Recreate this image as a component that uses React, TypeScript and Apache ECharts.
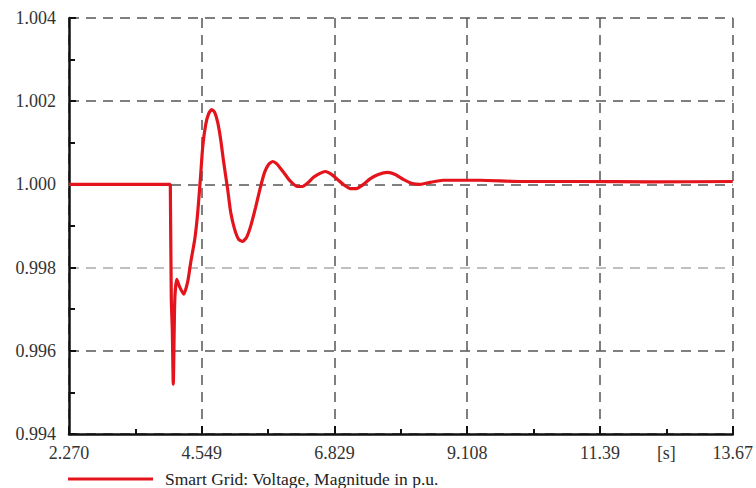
import React, { useEffect, useRef } from "react";
import * as echarts from "echarts";

const seriesName = "Smart Grid: Voltage, Magnitude in p.u.";
const timeS = [
  2.270, 4.010, 4.018, 4.027, 4.044, 4.061, 4.087, 4.121, 4.172, 4.241, 4.310, 4.361, 4.430, 4.481,
  4.532, 4.567, 4.618, 4.669, 4.721, 4.772, 4.824, 4.875, 4.927, 4.995, 5.047, 5.115, 5.184, 5.252,
  5.321, 5.389, 5.475, 5.561, 5.629, 5.698, 5.766, 5.835, 5.955, 6.075, 6.195, 6.280, 6.383, 6.469,
  6.572, 6.675, 6.778, 6.881, 7.000, 7.103, 7.206, 7.326, 7.446, 7.583, 7.737, 7.874, 8.012, 8.166,
  8.303, 8.474, 8.697, 8.989, 9.331, 10.017, 11.045, 12.245, 13.67,
];
const voltagePu = [
  1.0, 1.0, 1.0, 0.99724, 0.99652, 0.9952, 0.99724, 0.99772, 0.99753, 0.99736, 0.99767, 0.99813, 0.99868, 0.99933,
  1.00024, 1.00091, 1.00144, 1.0017, 1.0018, 1.00173, 1.00149, 1.00108, 1.00053, 0.99988, 0.99933, 0.99892, 0.99868, 0.99863,
  0.99873, 0.99899, 0.99945, 0.99995, 1.00029, 1.00048, 1.00055, 1.0005, 1.00029, 1.00007, 0.99995, 0.99995, 1.00005, 1.00017,
  1.00026, 1.00031, 1.00024, 1.00012, 0.99998, 0.9999, 0.9999, 1.0, 1.00014, 1.00024, 1.00029, 1.00024, 1.00012, 1.00002,
  1.0, 1.00005, 1.0001, 1.0001, 1.0001, 1.00007, 1.00007, 1.00006, 1.00007,
];
const xMajorTicks = [2.270, 4.549, 6.829, 9.108, 11.39, 13.67];
const xMajorLabels = ["2.270", "4.549", "6.829", "9.108", "11.39", "13.67"];
const xMinorTicks = [3.4095, 5.689, 7.9685, 10.249, 12.53];
const xUnitTick = 12.53;
const xUnitLabel = "[s]";
const yMin = 0.994;
const yMax = 1.004;
const yStep = 0.002;

export default function App() {
  const ref = useRef<HTMLDivElement>(null);
  useEffect(() => {
    if (!ref.current) return;
    const chart = echarts.init(ref.current, null, { renderer: "svg" });
    const font = "'Liberation Serif', 'DejaVu Serif', serif";
    const data = timeS.map((t, i) => [t, voltagePu[i]]);
    chart.setOption({
      animation: false,
      backgroundColor: "#ffffff",
      grid: { left: 69, right: 23, top: 18, bottom: 54, containLabel: false },
      legend: {
        data: [{ name: seriesName, icon: "rect" }],
        left: 68,
        top: 470,
        padding: 0,
        itemWidth: 85,
        itemHeight: 3,
        itemGap: 10,
        textStyle: { fontFamily: font, fontSize: 17.5, color: "#222", padding: [0, 0, 0, 7] },
      },
      xAxis: [
        {
          type: "value",
          min: 2.270,
          max: 13.67,
          axisLine: { show: true, onZero: false, lineStyle: { color: "#111", width: 2.5 } },
          axisTick: { show: true, inside: true, length: 8, customValues: xMajorTicks, lineStyle: { color: "#111", width: 2 } },
          axisLabel: {
            customValues: [...xMajorTicks, xUnitTick],
            fontFamily: font,
            fontSize: 18,
            color: "#333",
            margin: 10,
            showMinLabel: true,
            showMaxLabel: true,
            formatter: (v: number) => {
              if (Math.abs(v - xUnitTick) < 1e-6) return xUnitLabel;
              let best = 0;
              xMajorTicks.forEach((t, i) => {
                if (Math.abs(t - v) < Math.abs(xMajorTicks[best] - v)) best = i;
              });
              return xMajorLabels[best];
            },
          },
          splitLine: { show: true, lineStyle: { color: "#555", width: 1.5, type: [10, 7] } },
        },
        {
          type: "value",
          min: 2.270,
          max: 13.67,
          position: "bottom",
          axisLine: { show: false, onZero: false },
          axisTick: { show: true, inside: true, length: 5, customValues: xMinorTicks, lineStyle: { color: "#111", width: 2 } },
          axisLabel: { show: false },
          splitLine: { show: false },
        },
      ],
      yAxis: {
        type: "value",
        min: yMin,
        max: yMax,
        interval: yStep,
        axisLine: { show: true, onZero: false, lineStyle: { color: "#111", width: 2.5 } },
        axisTick: { show: true, inside: true, length: 7, lineStyle: { color: "#111", width: 2 } },
        minorTick: { show: true, splitNumber: 2, length: 6, lineStyle: { color: "#111", width: 2 } },
        axisLabel: {
          fontFamily: font,
          fontSize: 18,
          color: "#333",
          margin: 13,
          formatter: (v: number) => v.toFixed(3),
        },
        splitLine: {
          show: true,
          lineStyle: { color: ["#555", "#555", "#aaa", "#555", "#555", "#555"], width: 1.5, type: [10, 7] },
        },
      },
      series: [
        {
          name: seriesName,
          type: "line",
          data,
          showSymbol: false,
          smooth: 0.2,
          lineStyle: { color: "#e3141c", width: 3.2 },
          itemStyle: { color: "#e3141c" },
          z: 5,
        },
      ],
    });
    return () => chart.dispose();
  }, []);
  return <div ref={ref} style={{ width: 756, height: 488, position: "fixed", left: 0, top: 0 }} />;
}
